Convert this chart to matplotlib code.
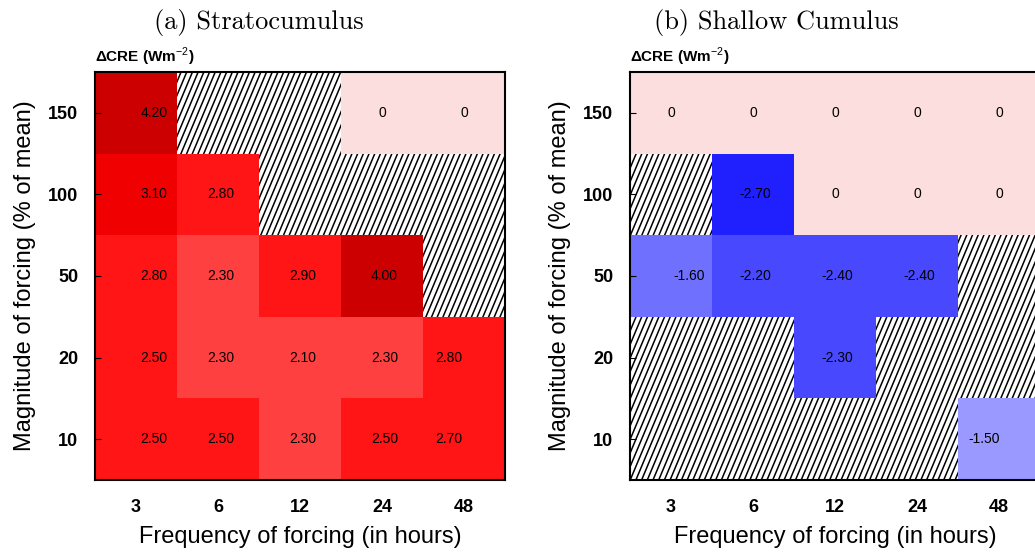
import numpy as np
import matplotlib
matplotlib.use("Agg")
import matplotlib.pyplot as plt
from matplotlib.colors import ListedColormap, BoundaryNorm
from matplotlib.collections import LineCollection

plt.rcParams['font.family'] = ['Liberation Sans', 'DejaVu Sans']
plt.rcParams['mathtext.fontset'] = 'custom'
plt.rcParams['mathtext.rm'] = 'Liberation Sans'
plt.rcParams['mathtext.bf'] = 'Liberation Sans:bold'

freq = ['3', '6', '12', '24', '48']
magnitude = ['150', '100', '50', '20', '10']  # top row first

nan = np.nan
strato = [
    [4.20, nan, nan, 0.0, 0.0],
    [3.10, 2.80, nan, nan, nan],
    [2.80, 2.30, 2.90, 4.00, nan],
    [2.50, 2.30, 2.10, 2.30, 2.80],
    [2.50, 2.50, 2.30, 2.50, 2.70],
]
shallow = [
    [0.0, 0.0, 0.0, 0.0, 0.0],
    [nan, -2.70, 0.0, 0.0, 0.0],
    [-1.60, -2.20, -2.40, -2.40, nan],
    [nan, nan, -2.30, nan, nan],
    [nan, nan, nan, nan, -1.50],
]
titles = ['(a) Stratocumulus', '(b) Shallow Cumulus']

bounds = [-3.0, -2.5, -2.0, -1.55, -1.0, 1.0, 2.4, 3.0, 3.5, 5.0]
colors = ['#2020ff', '#4848ff', '#7070ff', '#9999ff', '#fddede',
          '#ff4040', '#ff1515', '#f00000', '#cc0000']
cmap = ListedColormap(colors)
norm = BoundaryNorm(bounds, cmap.N)

# small horizontal nudges of the cell labels (fraction of a cell)
text_shift = [0.22, 0.03, 0.03, 0.03, -0.18]

fig = plt.figure(figsize=(10.35, 5.54), dpi=100)
W, H = 410 / 1035, 408 / 554
lefts = [95 / 1035, 630 / 1035]
bottom = 74 / 554


def hatch(ax):
    # steep diagonal hatching shown where no value exists
    step = 5.7 / 410
    dx = 0.42 * 408 / 410
    segs = [[(x0, 0), (x0 + dx, 1)] for x0 in np.arange(-0.5, 1.0, step)]
    lc = LineCollection(segs, colors='black', linewidths=1.1,
                        transform=ax.transAxes, zorder=0.5)
    ax.add_collection(lc)


for k, data in enumerate([strato, shallow]):
    ax = fig.add_axes([lefts[k], bottom, W, H])
    z = np.ma.masked_invalid(np.array(data)[::-1])
    hatch(ax)
    ax.pcolormesh(np.arange(6), np.arange(6), z, cmap=cmap, norm=norm,
                  zorder=1)
    for i in range(5):
        for j in range(5):
            v = data[i][j]
            if np.isnan(v):
                continue
            row = 4 - i
            if v == 0:
                ax.text(j + 0.5, row + 0.5, '0', ha='center', va='center',
                        fontsize=10, zorder=3)
            else:
                ax.text(j + 0.5 + text_shift[j], row + 0.5, '%.2f' % v,
                        ha='center', va='center', fontsize=10, zorder=3)
    ax.set_xlim(0, 5)
    ax.set_ylim(0, 5)
    ax.set_xticks(np.arange(5) + 0.5)
    ax.set_xticklabels(freq, fontsize=13, fontweight='bold')
    ax.set_yticks(np.arange(5) + 0.5)
    ax.set_yticklabels(magnitude[::-1], fontsize=13, fontweight='bold')
    ax.tick_params(axis='x', length=0, pad=14)
    ax.tick_params(axis='y', direction='in', length=4, pad=12)
    for s in ax.spines.values():
        s.set_linewidth(1.5)
        s.set_zorder(4)
    ax.set_xlabel('Frequency of forcing (in hours)', fontsize=17, labelpad=7)
    ax.set_ylabel('Magnitude of forcing (% of mean)', fontsize=17, labelpad=9)
    ax.text(0, 1.01, r'ΔCRE (Wm$^{-2}$)', transform=ax.transAxes,
            fontsize=11, fontweight='bold', ha='left', va='bottom')
    fig.text(0.25 + 0.5 * k, 0.96, titles[k], family='cmr10', fontsize=19,
             ha='center', va='center')

fig.savefig('out.png', dpi=100)
